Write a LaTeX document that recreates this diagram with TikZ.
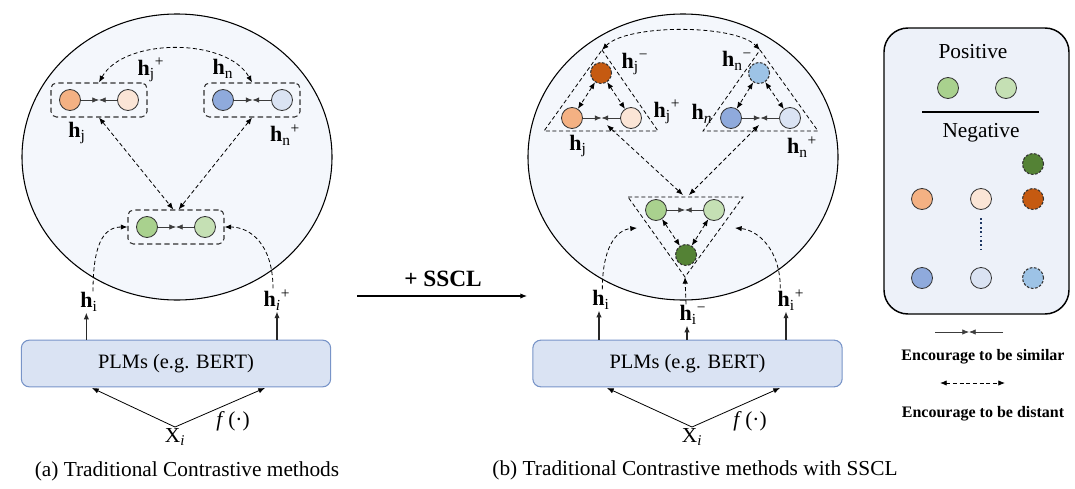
\documentclass[tikz,border=0pt]{standalone}
\usepackage{fontspec}
\setmainfont{Liberation Serif}
\usetikzlibrary{arrows.meta,calc}

\begin{document}
\begin{tikzpicture}[x=0.75pt,y=0.75pt,yscale=-1,xscale=1,
  >={Latex[length=5pt,width=4pt]},
  vec/.style={circle,draw={rgb,255:red,50;green,50;blue,50},line width=0.6pt,minimum size=15.75pt,inner sep=0pt},
  negvec/.style={vec,dash pattern=on 2pt off 1.2pt,line width=0.8pt},
  cOrange/.style={fill={rgb,255:red,244;green,177;blue,131}},
  cPeach/.style={fill={rgb,255:red,251;green,229;blue,214}},
  cBlue/.style={fill={rgb,255:red,143;green,170;blue,220}},
  cPale/.style={fill={rgb,255:red,218;green,227;blue,243}},
  cGreen/.style={fill={rgb,255:red,169;green,209;blue,142}},
  cLgreen/.style={fill={rgb,255:red,197;green,224;blue,180}},
  cRust/.style={fill={rgb,255:red,197;green,90;blue,17}},
  cForest/.style={fill={rgb,255:red,84;green,130;blue,53}},
  cSky/.style={fill={rgb,255:red,157;green,195;blue,230}},
  simarr/.style={->,line width=0.5pt,draw={rgb,255:red,60;green,60;blue,60}},
  distarr/.style={<->,line width=0.6pt,dash pattern=on 3pt off 2pt},
  feedarr/.style={->,line width=0.6pt,dash pattern=on 3pt off 2pt},
  uparr/.style={->,line width=0.8pt,draw={rgb,255:red,40;green,40;blue,40}},
  pairbox/.style={draw={rgb,255:red,50;green,50;blue,50},line width=0.8pt,dash pattern=on 4pt off 2.5pt,rounded corners=4pt,minimum width=72pt,minimum height=25.5pt},
  tri/.style={line width=0.6pt,dash pattern=on 3pt off 2pt},
  space/.style={line width=0.8pt,fill={rgb,255:red,244;green,247;blue,252}},
  plm/.style={draw={rgb,255:red,120;green,148;blue,200},line width=0.8pt,fill={rgb,255:red,218;green,227;blue,243},rounded corners=6pt,minimum width=232pt,minimum height=35pt,font=\fontsize{15.3}{17}\selectfont},
  hlab/.style={inner sep=0.75pt,font=\fontsize{16.5}{18}\selectfont},
  txt/.style={inner sep=0.75pt,font=\fontsize{16}{18}\selectfont},
  small/.style={inner sep=0.75pt,font=\fontsize{12}{14}\selectfont\bfseries}]
\useasboundingbox (0,0) rectangle (1075,489);

%%%%%%%%%%%%%%%% (a) %%%%%%%%%%%%%%%%
%Shape: Ellipse
\draw[space] (177,157) ellipse (155 and 143);

%Pairs
\node[pairbox] (bJ) at (99,100) {};
\node[pairbox] (bN) at (252,100) {};
\node[pairbox] (bI) at (176,227) {};
\node[vec,cOrange] (aJ) at (70,100) {};
\node[vec,cPeach] (aJp) at (128,100) {};
\node[vec,cBlue] (aN) at (223,100) {};
\node[vec,cPale] (aNp) at (282,100) {};
\node[vec,cGreen] (aI) at (147,227) {};
\node[vec,cLgreen] (aIp) at (205,227) {};
\coordinate (maJ) at ($(aJ)!.5!(aJp)$);
\coordinate (maN) at ($(aN)!.5!(aNp)$);
\coordinate (maI) at ($(aI)!.5!(aIp)$);
\draw[simarr] (aJ) -- (maJ);
\draw[simarr] (aJp) -- (maJ);
\draw[simarr] (aN) -- (maN);
\draw[simarr] (aNp) -- (maN);
\draw[simarr] (aI) -- (maI);
\draw[simarr] (aIp) -- (maI);

% Text Node
\node[hlab] (laJp) at (151,70) {\textbf{h}\textsubscript{j}\textsuperscript{+}};
\node[hlab] (laN) at (223,69) {\textbf{h}\textsubscript{n}};
\node[hlab] (laJ) at (77,133) {\textbf{h}\textsubscript{j}};
\node[hlab] (laNp) at (285,135) {\textbf{h}\textsubscript{n}\textsuperscript{+}};

%Distant arrows
\draw[distarr] (bJ.north) .. controls +(25,-45) and +(-25,-45) .. (bN.north);
\draw[distarr] (bJ.south) -- ([xshift=-2pt]bI.north);
\draw[distarr] (bN.south) -- ([xshift=2pt]bI.north);

%Encoder
\node[plm] (plmA) at (176,363.5) {PLMs (e.g. BERT)};
\node[hlab] (hiA) at (89,302) {\textbf{h}\textsubscript{i}};
\node[hlab] (hipA) at (277,300) {\textbf{h}\textsubscript{\textit{i}}\textsuperscript{+}};
\draw[uparr] ([xshift=-2pt]hiA.south |- plmA.north) -- ([xshift=-2pt]hiA.south);
\draw[uparr] (hipA.south |- plmA.north) -- (hipA.south);
\draw[feedarr] ([xshift=3pt]hiA.north) .. controls +(0,-45) and +(-25,0) .. (bI.west);
\draw[feedarr] ([xshift=-3pt]hipA.north) .. controls +(0,-45) and +(25,0) .. (bI.east);

\node[txt] (xA) at (175,437) {X\textsubscript{\textit{i}}};
\coordinate (xA1) at (92,388);
\coordinate (xA2) at (265,388);
\draw[->,line width=0.6pt] (xA.north) -- (xA1);
\draw[->,line width=0.6pt] (xA.north) -- (xA2);
\node[txt] (fA) at (233,421) {\textit{f}\,(·)};
\node[txt] (capA) at (187,471) {(a) Traditional Contrastive methods};

%%%%%%%%%%%%%%%% transition %%%%%%%%%%%%%%%%
\node[inner sep=0.75pt,font=\fontsize{17.5}{19}\selectfont\bfseries] (sscl) at (443,279) {+ SSCL};
\coordinate (arS) at (357,296);
\coordinate (arE) at (527,296);
\draw[->,line width=0.8pt] (arS) -- (arE);

%%%%%%%%%%%%%%%% (b) %%%%%%%%%%%%%%%%
\draw[space] (683,157) ellipse (155 and 143);

%Triangles
\coordinate (tJa) at (602,50);
\coordinate (tJb) at (658,131);
\coordinate (tJc) at (544,131);
\coordinate (tNa) at (760,50);
\coordinate (tNb) at (818,131);
\coordinate (tNc) at (703,131);
\coordinate (tIa) at (628,197);
\coordinate (tIb) at (743,197);
\coordinate (tIc) at (685,277);
\draw[tri] (tJa) -- (tJb) -- (tJc) -- cycle;
\draw[tri] (tNa) -- (tNb) -- (tNc) -- cycle;
\draw[tri] (tIa) -- (tIb) -- (tIc) -- cycle;

\node[negvec,cRust] (nJm) at (601,73) {};
\node[vec,cOrange] (nJ) at (572,118) {};
\node[vec,cPeach] (nJp) at (631,118) {};
\node[negvec,cSky] (nNm) at (759,73) {};
\node[vec,cBlue] (nN) at (731,118) {};
\node[vec,cPale] (nNp) at (790,118) {};
\node[vec,cGreen] (nI) at (656,210) {};
\node[vec,cLgreen] (nIp) at (714,210) {};
\node[negvec,cForest] (nIm) at (686,255) {};
\coordinate (mbJ) at ($(nJ)!.5!(nJp)$);
\coordinate (mbN) at ($(nN)!.5!(nNp)$);
\coordinate (mbI) at ($(nI)!.5!(nIp)$);
\draw[simarr] (nJ) -- (mbJ);
\draw[simarr] (nJp) -- (mbJ);
\draw[simarr] (nN) -- (mbN);
\draw[simarr] (nNp) -- (mbN);
\draw[simarr] (nI) -- (mbI);
\draw[simarr] (nIp) -- (mbI);
\draw[distarr] (nJm) -- (nJ);
\draw[distarr] (nJm) -- (nJp);
\draw[distarr] (nNm) -- (nN);
\draw[distarr] (nNm) -- (nNp);
\draw[distarr] (nI) -- (nIm);
\draw[distarr] (nIp) -- (nIm);

% Text Node
\node[hlab] (lbJm) at (635,64) {\textbf{h}\textsubscript{j}\textsuperscript{−}};
\node[hlab] (lbJp) at (667,112) {\textbf{h}\textsubscript{j}\textsuperscript{+}};
\node[hlab] (lbJ) at (578,146) {\textbf{h}\textsubscript{j}};
\node[hlab] (lbNm) at (737,61) {\textbf{h}\textsubscript{n}\textsuperscript{−}};
\node[hlab] (lbN) at (702,114) {\textbf{h}\textsubscript{\textit{n}}};
\node[hlab] (lbNp) at (802,147) {\textbf{h}\textsubscript{n}\textsuperscript{+}};

%Distant arrows
\coordinate (dJ) at (607,125);
\coordinate (dN) at (759,125);
\coordinate (dI1) at (683,195);
\coordinate (dI2) at (689,195);
\draw[distarr] (tJa) .. controls +(25,-26) and +(-25,-26) .. (tNa);
\draw[distarr] (dJ) -- (dI1);
\draw[distarr] (dN) -- (dI2);

%Encoder
\node[plm] (plmB) at (687.5,363.5) {PLMs (e.g. BERT)};
\node[hlab] (hiB) at (601,300) {\textbf{h}\textsubscript{i}};
\node[hlab] (hmB) at (693,315) {\textbf{h}\textsubscript{i}\textsuperscript{−}};
\node[hlab] (hipB) at (791,300) {\textbf{h}\textsubscript{i}\textsuperscript{+}};
\draw[uparr] ([xshift=-1.5pt]hiB.south |- plmB.north) -- ([xshift=-1.5pt]hiB.south);
\draw[uparr] ([xshift=-4.5pt]hmB.south |- plmB.north) -- ([xshift=-4.5pt]hmB.south);
\draw[uparr] ([xshift=-3.75pt]hipB.south |- plmB.north) -- ([xshift=-3.75pt]hipB.south);
\coordinate (cI1) at (637,228);
\coordinate (cI2) at (735,228);
\draw[feedarr] ([xshift=1pt]hiB.north) .. controls +(0,-40) and +(-22,2) .. (cI1);
\draw[feedarr] ([xshift=-8pt]hipB.north) .. controls +(0,-40) and +(22,2) .. (cI2);
\draw[feedarr] ([xshift=-5.25pt]hmB.north) -- (tIc);

\node[txt] (xB) at (692,437) {X\textsubscript{\textit{i}}};
\coordinate (xB1) at (607,388);
\coordinate (xB2) at (780,388);
\draw[->,line width=0.6pt] (xB.north) -- (xB1);
\draw[->,line width=0.6pt] (xB.north) -- (xB2);
\node[txt] (fB) at (750,421) {\textit{f}\,(·)};
\node[txt] (capB) at (695,470) {(b) Traditional Contrastive methods with SSCL};

%%%%%%%%%%%%%%%% legend %%%%%%%%%%%%%%%%
\draw[line width=1.1pt,rounded corners=18pt,fill={rgb,255:red,237;green,241;blue,249}] (884,28) rectangle (1069,314);
\node[txt] (pos) at (973,52) {Positive};
\node[vec,cGreen] (gP) at (948,88) {};
\node[vec,cLgreen] (gPp) at (1006,88) {};
\coordinate (sepL) at (922,112);
\coordinate (sepR) at (1039,112);
\draw[line width=0.8pt] (sepL) -- (sepR);
\node[txt] (neg) at (981,133) {Negative};
\node[negvec,cForest] (gIm) at (1033,164) {};
\node[vec,cOrange] (gJ) at (922,199) {};
\node[vec,cPeach] (gJp) at (981,199) {};
\node[negvec,cRust] (gJm) at (1033,199) {};
\node[vec,cBlue] (gN) at (922,278) {};
\node[vec,cPale] (gNp) at (981,278) {};
\node[negvec,cSky] (gNm) at (1033,278) {};
\coordinate (dotT) at (981,218);
\coordinate (dotB) at (981,250);
\draw[line width=1.3pt,dotted,draw={rgb,255:red,31;green,56;blue,100}] (dotT) -- (dotB);

\coordinate (sL) at (935,332);
\coordinate (sM) at (969,332);
\coordinate (sR) at (1003,332);
\draw[simarr] (sL) -- (sM);
\draw[simarr] (sR) -- (sM);
\node[small] (encS) at (983,357) {Encourage to be similar};
\coordinate (dL) at (940,383);
\coordinate (dR) at (1005,383);
\draw[distarr] (dL) -- (dR);
\node[small] (encD) at (983,414) {Encourage to be distant};

\end{tikzpicture}
\end{document}
